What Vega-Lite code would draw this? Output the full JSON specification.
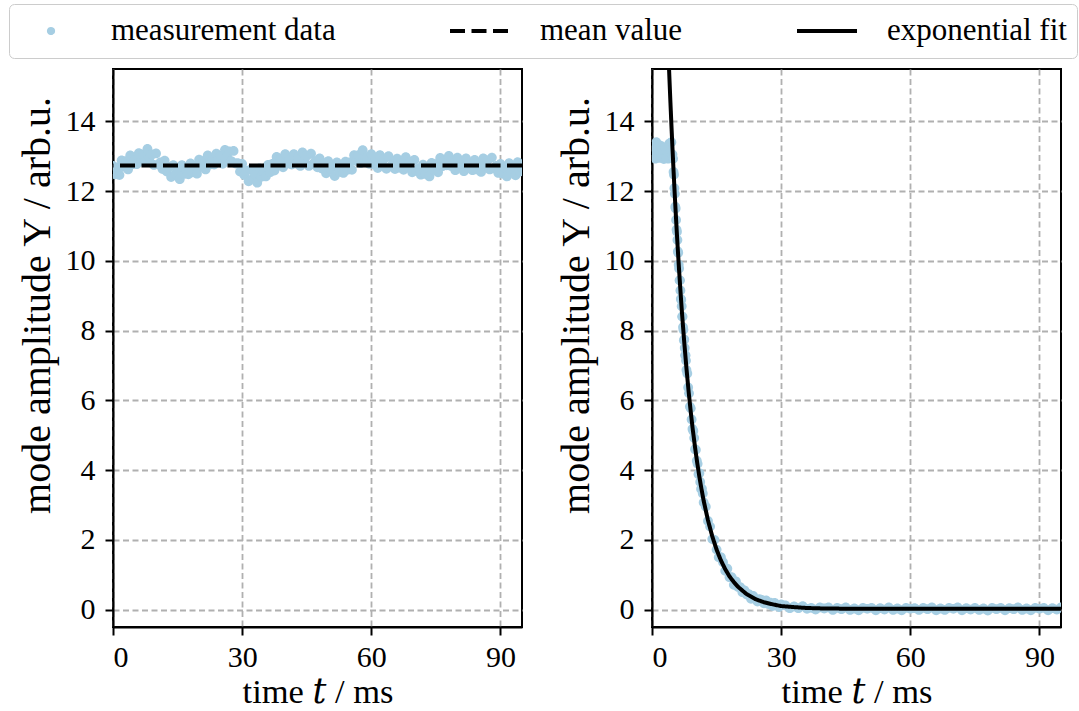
{
"$schema": "https://vega.github.io/schema/vega-lite/v6.json",
"background": "white",
"padding": {"left": 8, "top": 3, "right": 0, "bottom": 0},
"spacing": 30,
"config": {
  "font": "Liberation Serif",
  "view": {"stroke": "black", "strokeWidth": 2},
  "axis": {"labelFont": "Liberation Serif", "labelFontSize": 30, "labelColor": "black", "titleFont": "Liberation Serif, DejaVu Serif", "titleFontWeight": "normal", "titleColor": "black", "tickColor": "black", "tickWidth": 2, "tickSize": 8, "domain": true, "domainColor": "black", "domainWidth": 2, "grid": true, "gridColor": "#b0b0b0", "gridDash": [6, 3.5], "gridWidth": 1.8, "gridOpacity": 1},
  "axisX": {"labelPadding": 7, "titlePadding": 3, "titleFontSize": 34.5},
  "axisY": {"labelPadding": 10, "titlePadding": 8, "titleFontSize": 40, "titleY": 236},
  "legend": {"symbolSize": 3600, "symbolStrokeWidth": 4}
},
"resolve": {"scale": {"color": "shared", "shape": "shared", "strokeDash": "shared"}, "legend": {"color": "shared", "shape": "shared", "strokeDash": "shared"}},
"datasets": {
  "measL": [
{"t":0,"y":12.72},{"t":0.5,"y":12.48},{"t":1,"y":12.68},{"t":1.5,"y":12.46},{"t":2,"y":12.88},{"t":2.5,"y":12.70},{"t":3,"y":12.86},{"t":3.5,"y":12.62},{"t":4,"y":13.02},{"t":4.5,"y":12.77},
{"t":5,"y":12.89},{"t":5.5,"y":12.77},{"t":6,"y":13.09},{"t":6.5,"y":12.85},{"t":7,"y":13.05},{"t":7.5,"y":12.84},{"t":8,"y":13.21},{"t":8.5,"y":12.96},{"t":9,"y":13.05},{"t":9.5,"y":12.75},
{"t":10,"y":13.08},{"t":10.5,"y":12.76},{"t":11,"y":12.82},{"t":11.5,"y":12.63},{"t":12,"y":12.87},{"t":12.5,"y":12.56},{"t":13,"y":12.69},{"t":13.5,"y":12.40},{"t":14,"y":12.74},{"t":14.5,"y":12.49},
{"t":15,"y":12.58},{"t":15.5,"y":12.34},{"t":16,"y":12.74},{"t":16.5,"y":12.49},{"t":17,"y":12.62},{"t":17.5,"y":12.48},{"t":18,"y":12.79},{"t":18.5,"y":12.54},{"t":19,"y":12.73},{"t":19.5,"y":12.50},
{"t":20,"y":12.90},{"t":20.5,"y":12.71},{"t":21,"y":12.86},{"t":21.5,"y":12.62},{"t":22,"y":13.02},{"t":22.5,"y":12.76},{"t":23,"y":12.89},{"t":23.5,"y":12.76},{"t":24,"y":13.07},{"t":24.5,"y":12.82},
{"t":25,"y":13.01},{"t":25.5,"y":12.78},{"t":26,"y":13.18},{"t":26.5,"y":12.99},{"t":27,"y":13.14},{"t":27.5,"y":12.86},{"t":28,"y":13.15},{"t":28.5,"y":12.79},{"t":29,"y":12.80},{"t":29.5,"y":12.56},
{"t":30,"y":12.78},{"t":30.5,"y":12.46},{"t":31,"y":12.58},{"t":31.5,"y":12.28},{"t":32,"y":12.62},{"t":32.5,"y":12.36},{"t":33,"y":12.48},{"t":33.5,"y":12.24},{"t":34,"y":12.65},{"t":34.5,"y":12.41},
{"t":35,"y":12.55},{"t":35.5,"y":12.42},{"t":36,"y":12.75},{"t":36.5,"y":12.54},{"t":37,"y":12.78},{"t":37.5,"y":12.59},{"t":38,"y":12.98},{"t":38.5,"y":12.79},{"t":39,"y":12.93},{"t":39.5,"y":12.68},
{"t":40,"y":13.06},{"t":40.5,"y":12.79},{"t":41,"y":12.91},{"t":41.5,"y":12.76},{"t":42,"y":13.06},{"t":42.5,"y":12.79},{"t":43,"y":12.97},{"t":43.5,"y":12.72},{"t":44,"y":13.11},{"t":44.5,"y":12.90},
{"t":45,"y":13.01},{"t":45.5,"y":12.72},{"t":46,"y":13.07},{"t":46.5,"y":12.78},{"t":47,"y":12.86},{"t":47.5,"y":12.68},{"t":48,"y":12.94},{"t":48.5,"y":12.65},{"t":49,"y":12.79},{"t":49.5,"y":12.51},
{"t":50,"y":12.86},{"t":50.5,"y":12.63},{"t":51,"y":12.73},{"t":51.5,"y":12.43},{"t":52,"y":12.82},{"t":52.5,"y":12.55},{"t":53,"y":12.67},{"t":53.5,"y":12.52},{"t":54,"y":12.84},{"t":54.5,"y":12.61},
{"t":55,"y":12.82},{"t":55.5,"y":12.61},{"t":56,"y":13.03},{"t":56.5,"y":12.86},{"t":57,"y":13.03},{"t":57.5,"y":12.80},{"t":58,"y":13.17},{"t":58.5,"y":12.88},{"t":59,"y":12.96},{"t":59.5,"y":12.78},
{"t":60,"y":13.06},{"t":60.5,"y":12.77},{"t":61,"y":12.93},{"t":61.5,"y":12.66},{"t":62,"y":13.03},{"t":62.5,"y":12.81},{"t":63,"y":12.93},{"t":63.5,"y":12.64},{"t":64,"y":13.00},{"t":64.5,"y":12.71},
{"t":65,"y":12.80},{"t":65.5,"y":12.63},{"t":66,"y":12.93},{"t":66.5,"y":12.67},{"t":67,"y":12.85},{"t":67.5,"y":12.61},{"t":68,"y":12.97},{"t":68.5,"y":12.74},{"t":69,"y":12.84},{"t":69.5,"y":12.54},
{"t":70,"y":12.89},{"t":70.5,"y":12.58},{"t":71,"y":12.65},{"t":71.5,"y":12.47},{"t":72,"y":12.76},{"t":72.5,"y":12.49},{"t":73,"y":12.67},{"t":73.5,"y":12.42},{"t":74,"y":12.81},{"t":74.5,"y":12.61},
{"t":75,"y":12.77},{"t":75.5,"y":12.54},{"t":76,"y":12.95},{"t":76.5,"y":12.71},{"t":77,"y":12.86},{"t":77.5,"y":12.74},{"t":78,"y":13.01},{"t":78.5,"y":12.72},{"t":79,"y":12.87},{"t":79.5,"y":12.60},
{"t":80,"y":12.96},{"t":80.5,"y":12.73},{"t":81,"y":12.84},{"t":81.5,"y":12.57},{"t":82,"y":12.94},{"t":82.5,"y":12.66},{"t":83,"y":12.76},{"t":83.5,"y":12.60},{"t":84,"y":12.89},{"t":84.5,"y":12.62},
{"t":85,"y":12.79},{"t":85.5,"y":12.55},{"t":86,"y":12.94},{"t":86.5,"y":12.74},{"t":87,"y":12.88},{"t":87.5,"y":12.62},{"t":88,"y":12.96},{"t":88.5,"y":12.65},{"t":89,"y":12.72},{"t":89.5,"y":12.52},
{"t":90,"y":12.78},{"t":90.5,"y":12.50},{"t":91,"y":12.67},{"t":91.5,"y":12.42},{"t":92,"y":12.80},{"t":92.5,"y":12.59},{"t":93,"y":12.72},{"t":93.5,"y":12.45},{"t":94,"y":12.83},{"t":94.5,"y":12.56},
{"t":95,"y":12.67}
  ],
  "mean": [{"y": 12.73}],
  "measR": [
{"t":0,"y":13.28},{"t":0.25,"y":12.98},{"t":0.5,"y":13.22},{"t":0.75,"y":12.93},{"t":1,"y":13.40},{"t":1.25,"y":13.12},{"t":1.5,"y":13.30},{"t":1.75,"y":12.95},{"t":2,"y":13.30},{"t":2.25,"y":13.05},
{"t":2.5,"y":13.18},{"t":2.75,"y":12.92},{"t":3,"y":13.25},{"t":3.25,"y":12.96},{"t":3.5,"y":13.15},{"t":3.75,"y":12.93},{"t":4,"y":13.36},{"t":4.25,"y":13.10},{"t":4.5,"y":13.40},{"t":4.75,"y":13.05},
{"t":4.9,"y":12.93},{"t":5.0,"y":12.55},{"t":5.1,"y":12.47},{"t":5.2,"y":12.08},{"t":5.3,"y":11.92},{"t":5.4,"y":11.55},{"t":5.5,"y":11.50},{"t":5.6,"y":11.17},{"t":5.7,"y":10.89},{"t":5.8,"y":10.83},
{"t":5.9,"y":10.60},{"t":6.0,"y":10.27},{"t":6.1,"y":10.23},{"t":6.2,"y":9.89},{"t":6.3,"y":9.78},{"t":6.4,"y":9.44},{"t":6.5,"y":9.44},{"t":6.6,"y":9.15},{"t":6.7,"y":8.91},{"t":6.8,"y":8.88},
{"t":6.9,"y":8.70},{"t":7.0,"y":8.40},{"t":7.1,"y":8.40},{"t":7.2,"y":8.10},{"t":7.3,"y":8.02},{"t":7.4,"y":7.72},{"t":7.5,"y":7.75},{"t":7.6,"y":7.50},{"t":7.7,"y":7.29},{"t":7.8,"y":7.29},
{"t":7.9,"y":7.14},{"t":8.0,"y":6.87},{"t":8.2,"y":6.77},{"t":8.4,"y":6.37},{"t":8.6,"y":6.20},{"t":8.8,"y":5.82},{"t":9.0,"y":5.77},{"t":9.2,"y":5.45},{"t":9.4,"y":5.18},{"t":9.6,"y":5.12},
{"t":9.8,"y":4.92},{"t":10.0,"y":4.60},{"t":10.2,"y":4.58},{"t":10.4,"y":4.27},{"t":10.6,"y":4.18},{"t":10.8,"y":3.88},{"t":11.0,"y":3.91},{"t":11.2,"y":3.66},{"t":11.4,"y":3.46},{"t":11.6,"y":3.47},
{"t":11.8,"y":3.33},{"t":12.0,"y":3.07},{"t":12.5,"y":2.95},{"t":13.0,"y":2.54},{"t":13.5,"y":2.38},{"t":14.0,"y":2.02},{"t":14.5,"y":2.00},{"t":15.0,"y":1.72},{"t":15.5,"y":1.50},{"t":16.0,"y":1.50},
{"t":16.5,"y":1.36},{"t":17.0,"y":1.11},{"t":17.5,"y":1.17},{"t":18.0,"y":0.93},{"t":18.5,"y":0.93},{"t":19.0,"y":0.71},{"t":19.5,"y":0.81},{"t":20.0,"y":0.65},{"t":20.5,"y":0.64},{"t":21,"y":0.50},
{"t":21.5,"y":0.55},{"t":22,"y":0.43},{"t":22.5,"y":0.44},{"t":23,"y":0.31},{"t":23.5,"y":0.39},{"t":24,"y":0.30},{"t":24.5,"y":0.23},{"t":25,"y":0.30},{"t":25.5,"y":0.28},{"t":26,"y":0.18},
{"t":26.5,"y":0.26},{"t":27,"y":0.16},{"t":27.5,"y":0.20},{"t":28,"y":0.10},{"t":28.5,"y":0.19},{"t":29,"y":0.12},{"t":29.5,"y":0.07},{"t":30,"y":0.15},{"t":31,"y":0.12},{"t":32,"y":0.04},
{"t":33,"y":0.09},{"t":34,"y":0.04},{"t":35,"y":0.10},{"t":36,"y":0.02},{"t":37,"y":0.05},{"t":38,"y":0.00},{"t":39,"y":0.06},{"t":40,"y":0.03},{"t":41,"y":0.06},{"t":42,"y":-0.01},
{"t":43,"y":0.05},{"t":44,"y":0.01},{"t":45,"y":0.06},{"t":46,"y":-0.01},{"t":47,"y":0.03},{"t":48,"y":-0.02},{"t":49,"y":0.05},{"t":50,"y":0.02},{"t":51,"y":0.05},{"t":52,"y":-0.02},
{"t":53,"y":0.04},{"t":54,"y":0.00},{"t":55,"y":0.06},{"t":56,"y":-0.01},{"t":57,"y":0.03},{"t":58,"y":-0.02},{"t":59,"y":0.05},{"t":60,"y":0.02},{"t":61,"y":0.04},{"t":62,"y":-0.01},
{"t":63,"y":0.05},{"t":64,"y":0.01},{"t":65,"y":0.06},{"t":66,"y":-0.02},{"t":67,"y":0.03},{"t":68,"y":-0.01},{"t":69,"y":0.05},{"t":70,"y":0.02},{"t":71,"y":0.06},{"t":72,"y":-0.02},
{"t":73,"y":0.04},{"t":74,"y":0.00},{"t":75,"y":0.05},{"t":76,"y":-0.01},{"t":77,"y":0.03},{"t":78,"y":-0.03},{"t":79,"y":0.05},{"t":80,"y":0.01},{"t":81,"y":0.05},{"t":82,"y":-0.02},
{"t":83,"y":0.04},{"t":84,"y":0.01},{"t":85,"y":0.06},{"t":86,"y":-0.01},{"t":87,"y":0.03},{"t":88,"y":-0.02},{"t":89,"y":0.05},{"t":90,"y":0.02},{"t":91,"y":0.05},{"t":92,"y":-0.02},
{"t":93,"y":0.04},{"t":94,"y":0.00},{"t":95,"y":0.06}
  ],
  "fit": [
{"t":3.5,"y":16.99},{"t":3.75,"y":16.17},{"t":4.0,"y":15.38},{"t":4.25,"y":14.63},{"t":4.5,"y":13.92},{"t":4.75,"y":13.24},{"t":5.0,"y":12.60},{"t":5.25,"y":11.98},{"t":5.5,"y":11.40},{"t":5.75,"y":10.84},
{"t":6.0,"y":10.32},{"t":6.25,"y":9.81},{"t":6.5,"y":9.34},{"t":6.75,"y":8.88},{"t":7.0,"y":8.45},{"t":7.5,"y":7.65},{"t":8.0,"y":6.92},{"t":8.5,"y":6.26},{"t":9.0,"y":5.67},{"t":9.5,"y":5.13},
{"t":10.0,"y":4.65},{"t":10.5,"y":4.21},{"t":11.0,"y":3.81},{"t":11.5,"y":3.45},{"t":12.0,"y":3.12},{"t":13,"y":2.56},{"t":14,"y":2.10},{"t":15,"y":1.72},{"t":16,"y":1.41},{"t":17,"y":1.16},
{"t":18,"y":0.95},{"t":19,"y":0.79},{"t":20,"y":0.65},{"t":22,"y":0.44},{"t":24,"y":0.30},{"t":26,"y":0.21},{"t":28,"y":0.15},{"t":30,"y":0.10},{"t":33,"y":0.07},{"t":36,"y":0.045},
{"t":40,"y":0.031},{"t":45,"y":0.025},{"t":50,"y":0.022},{"t":60,"y":0.02},{"t":95,"y":0.02}
  ]
},
"hconcat": [
  {
    "width": 409, "height": 558,
    "layer": [
      {
        "data": {"name": "measL"},
        "mark": {"type": "point", "filled": true, "size": 19600, "opacity": 1, "clip": true},
        "encoding": {
          "x": {"field": "t", "type": "quantitative", "scale": {"domain": [0, 95], "nice": false, "zero": false}, "axis": {"values": [0, 30, 60, 90], "title": "time 𝑡 / ms"}},
          "y": {"field": "y", "type": "quantitative", "scale": {"domain": [-0.5, 15.5], "nice": false, "zero": false}, "axis": {"values": [0, 2, 4, 6, 8, 10, 12, 14], "title": "mode amplitude Y / arb.u."}},
          "color": {
            "datum": "measurement data",
            "scale": {"domain": ["measurement data", "mean value", "exponential fit"], "range": ["#a6cee3", "black", "black"]},
            "legend": {
              "orient": "none", "legendX": -104, "legendY": -65,
              "direction": "horizontal", "columns": 3, "title": null,
              "labelFont": "Liberation Serif", "labelFontSize": 31, "labelColor": "black", "labelLimit": 0,
              "symbolSize": 3600, "symbolStrokeWidth": 4, "labelOffset": 28, "columnPadding": 112,
              "clipHeight": 34,
              "padding": 10, "strokeColor": "#cccccc", "fillColor": "white", "cornerRadius": 5
            }
          },
          "shape": {
            "datum": "measurement data",
            "scale": {"domain": ["measurement data", "mean value", "exponential fit"], "range": ["M -0.07 0 A 0.07 0.07 0 1 1 0.07 0 A 0.07 0.07 0 1 1 -0.07 0 Z", "stroke", "stroke"]}
          }
        }
      },
      {
        "data": {"name": "mean"},
        "mark": {"type": "rule", "strokeWidth": 4},
        "encoding": {
          "y": {"field": "y", "type": "quantitative"},
          "color": {"datum": "mean value"},
          "strokeDash": {
            "datum": "mean value",
            "scale": {"domain": ["measurement data", "mean value", "exponential fit"], "range": [[1, 0], [15, 6.5], [1, 0]]}
          }
        }
      }
    ]
  },
  {
    "width": 409, "height": 558,
    "layer": [
      {
        "data": {"name": "measR"},
        "mark": {"type": "point", "filled": true, "size": 19600, "opacity": 1, "clip": true},
        "encoding": {
          "x": {"field": "t", "type": "quantitative", "scale": {"domain": [0, 95], "nice": false, "zero": false}, "axis": {"values": [0, 30, 60, 90], "title": "time 𝑡 / ms"}},
          "y": {"field": "y", "type": "quantitative", "scale": {"domain": [-0.5, 15.5], "nice": false, "zero": false}, "axis": {"values": [0, 2, 4, 6, 8, 10, 12, 14], "title": "mode amplitude Y / arb.u."}},
          "color": {"datum": "measurement data"},
          "shape": {"datum": "measurement data"}
        }
      },
      {
        "data": {"name": "fit"},
        "mark": {"type": "line", "strokeWidth": 4, "clip": true},
        "encoding": {
          "x": {"field": "t", "type": "quantitative"},
          "y": {"field": "y", "type": "quantitative"},
          "color": {"datum": "exponential fit"},
          "strokeDash": {"datum": "exponential fit"}
        }
      }
    ]
  }
]
}
